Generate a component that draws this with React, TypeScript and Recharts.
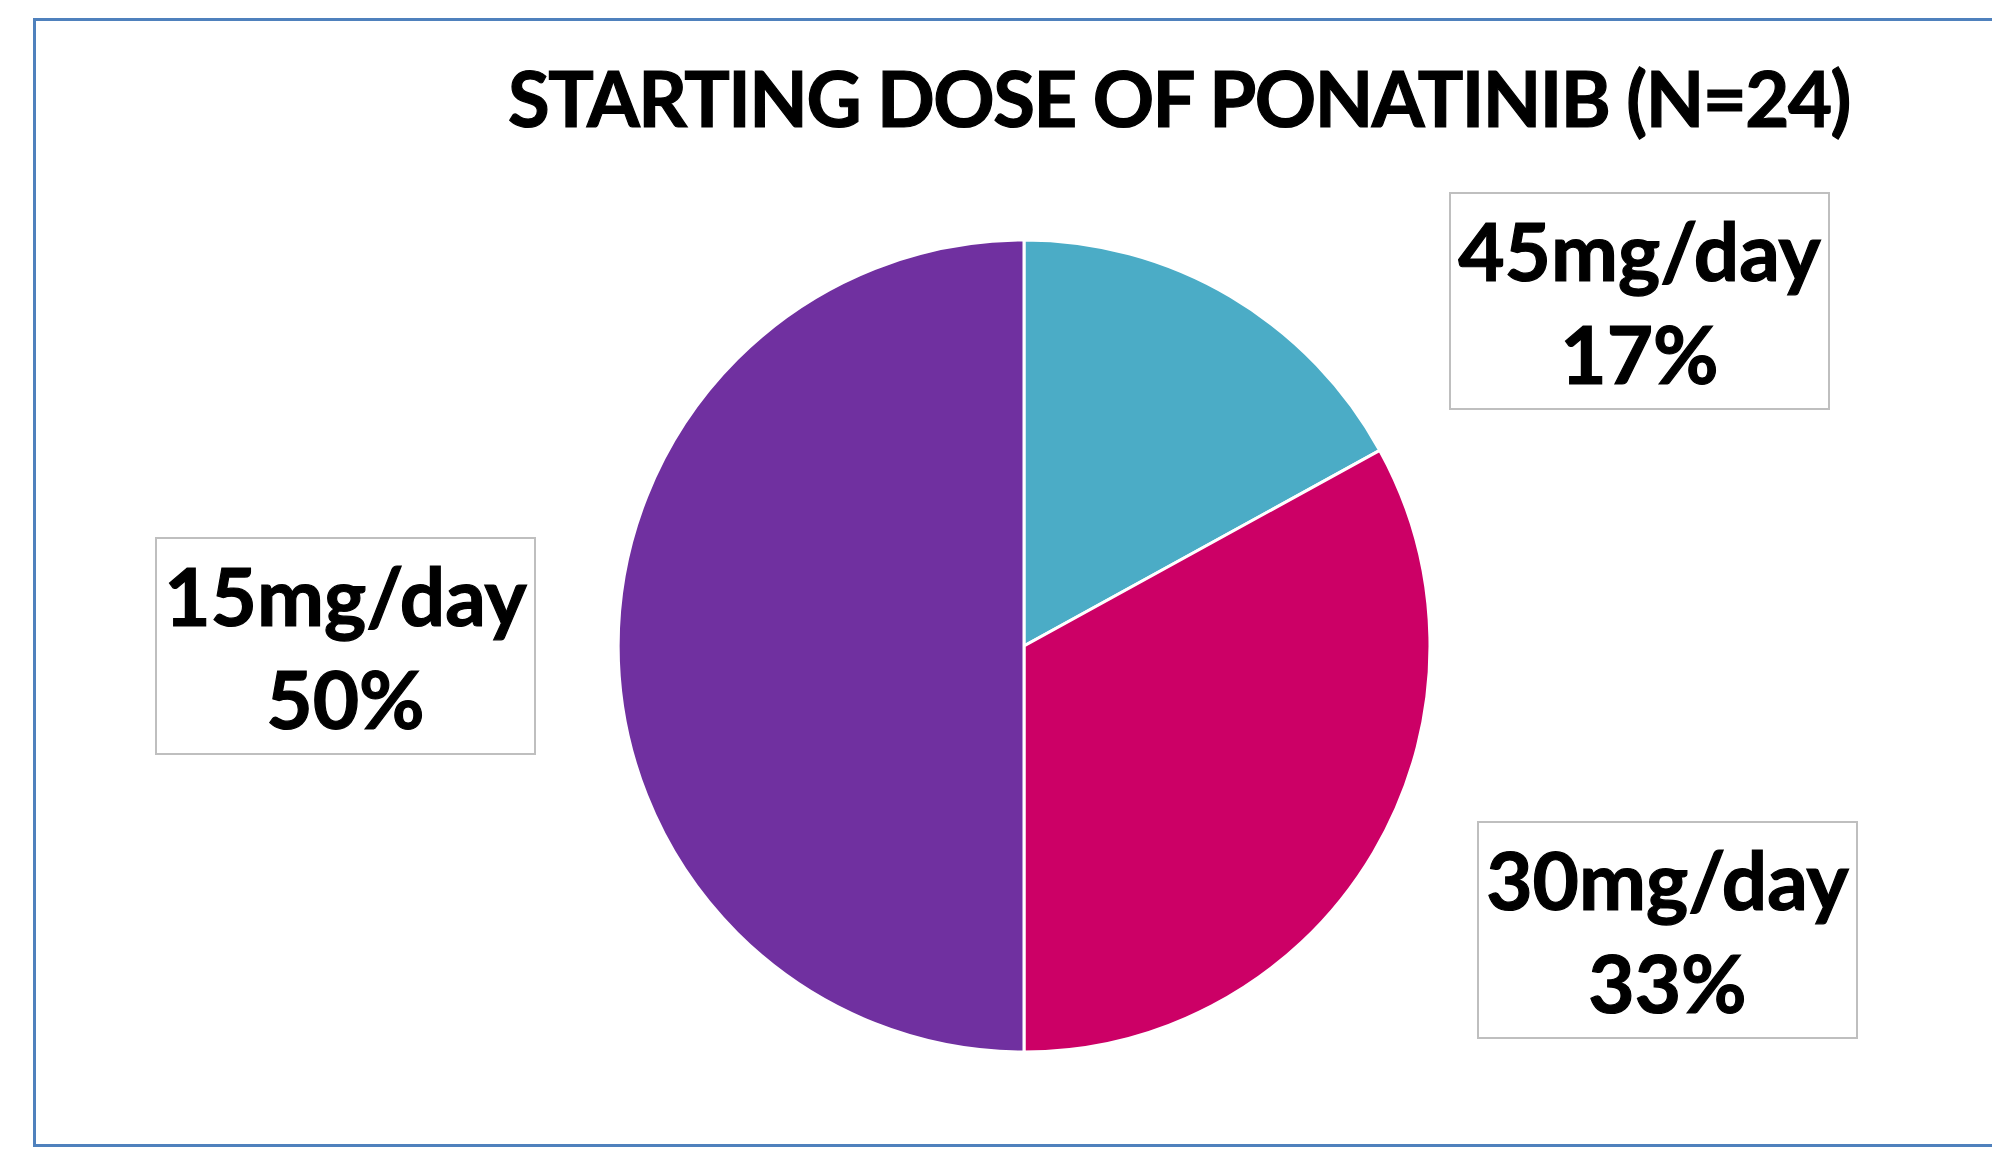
import { PieChart, Pie, Cell } from 'recharts';

const doses = ['45mg/day', '30mg/day', '15mg/day'];
const shares = [17, 33, 50];
const colors = ['#4BACC6', '#CC0066', '#7030A0'];

const title = 'STARTING DOSE OF PONATINIB (N=24)';

const data = doses.map((name, i) => ({ name, value: shares[i] }));

// where Excel dragged each label box, relative to the pie centre
const boxOffsets: Record<string, { dx: number; dy: number }> = {
    '45mg/day': { dx: 426, dy: -453 },
    '30mg/day': { dx: 454, dy: 176 },
    '15mg/day': { dx: -868, dy: -108 },
};

const BOX_W = 379;
const BOX_H = 216;
const FONT = 'Lato, "Open Sans", sans-serif';

const renderLabel = (props: any) => {
    const { cx, cy, name, percent } = props;
    const off = boxOffsets[name];
    const x = cx + off.dx;
    const y = cy + off.dy;
    const mid = x + BOX_W / 2;
    return (
        <g>
            <rect x={x} y={y} width={BOX_W} height={BOX_H} fill="#fff" stroke="#BFBFBF" strokeWidth={2} />
            <text
                x={mid}
                y={y + 88}
                textAnchor="middle"
                fontFamily={FONT}
                fontWeight={700}
                fontSize={80}
                fill="#000"
                stroke="#000"
                strokeWidth={1.2}
            >
                {name}
            </text>
            <text
                x={mid}
                y={y + 191}
                textAnchor="middle"
                fontFamily={FONT}
                fontWeight={700}
                fontSize={80}
                fill="#000"
                stroke="#000"
                strokeWidth={1.2}
            >
                {`${Math.round(percent * 100)}%`}
            </text>
        </g>
    );
};

export default function App() {
    return (
        <div style={{ position: 'absolute', left: 0, top: 0, width: 1992, height: 1168, background: '#fff', overflow: 'hidden' }}>
            <div
                style={{
                    position: 'absolute',
                    left: 33,
                    top: 18,
                    width: 2000,
                    height: 1123,
                    border: '3px solid #4F81BD',
                }}
            />
            <div style={{ position: 'absolute', left: 0, top: 0 }}>
                <PieChart width={1992} height={1168} margin={{ top: 0, right: 0, bottom: 0, left: 0 }}>
                    <Pie
                        data={data}
                        dataKey="value"
                        nameKey="name"
                        cx={1024}
                        cy={646}
                        outerRadius={406}
                        startAngle={90}
                        endAngle={-270}
                        stroke="#fff"
                        strokeWidth={3}
                        label={renderLabel}
                        labelLine={false}
                        isAnimationActive={false}
                    >
                        {data.map((d, i) => (
                            <Cell key={d.name} fill={colors[i]} />
                        ))}
                    </Pie>
                </PieChart>
            </div>
            <svg width={1992} height={1168} style={{ position: 'absolute', left: 0, top: 0, pointerEvents: 'none' }}>
                <text
                    x={1179}
                    y={127}
                    textAnchor="middle"
                    fontFamily={FONT}
                    fontWeight={700}
                    fontSize={76}
                    letterSpacing={-1.5}
                    fill="#000"
                    stroke="#000"
                    strokeWidth={1.2}
                >
                    {title}
                </text>
            </svg>
        </div>
    );
}
